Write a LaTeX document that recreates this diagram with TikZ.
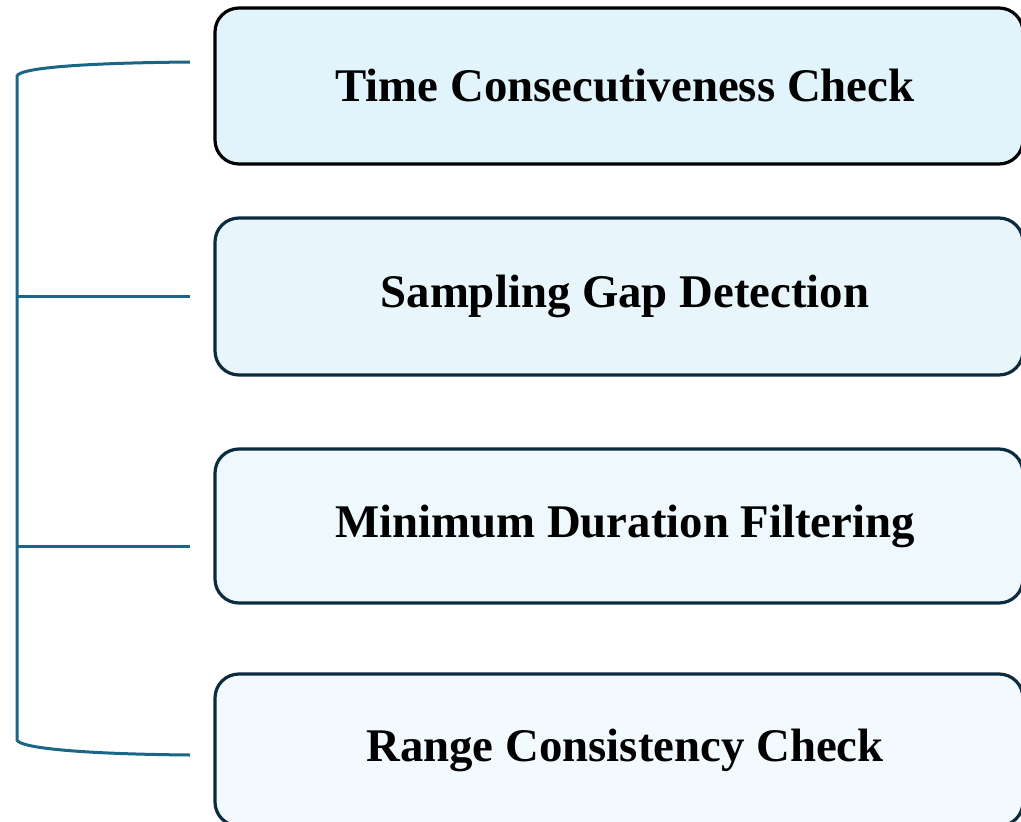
\documentclass[tikz,border=0pt]{standalone}
\usepackage{fontspec}
\setmainfont{Liberation Serif}
\definecolor{brk}{HTML}{1B6586}
\definecolor{navy}{HTML}{0B2B3E}
\definecolor{fillA}{HTML}{E1F4FC}
\definecolor{fillB}{HTML}{E8F6FC}
\definecolor{fillC}{HTML}{EEF8FD}
\definecolor{fillD}{HTML}{F3FAFE}
\tikzset{
  stagebox/.style={draw=navy, line width=3.2pt, rounded corners=24pt, inner sep=0pt,
    minimum width=808pt, font=\fontsize{46.8}{50}\selectfont\bfseries, text=black},
  brace/.style={draw=brk, line width=3pt}
}
\begin{document}
\begin{tikzpicture}[x=1pt,y=-1pt]
\useasboundingbox (0,0) rectangle (1021,822);
\clip (0,0) rectangle (1021,822);
\node[stagebox, draw=black, fill=fillA, minimum height=156pt] (b1) at (619,86) {\hspace*{12pt}\raisebox{-4pt}{Time Consecutiveness Check}};
\node[stagebox, fill=fillB, minimum height=157pt] (b2) at (619,296.5) {\hspace*{12pt}\raisebox{-4pt}{Sampling Gap Detection}};
\node[stagebox, fill=fillC, minimum height=154pt] (b3) at (619,526) {\hspace*{12pt}\raisebox{-4pt}{Minimum Duration Filtering}};
\node[stagebox, fill=fillD, minimum height=152pt] (b4) at (619,750) {\hspace*{12pt}\raisebox{-4pt}{Range Consistency Check}};
\coordinate (e1) at (190,62);
\coordinate (e2) at (190,296);
\coordinate (e3) at (190,546);
\coordinate (e4) at (190,755);
\coordinate (s1) at (17,76);
\coordinate (s2) at (17,296);
\coordinate (s3) at (17,546);
\coordinate (s4) at (17,740);
\draw[brace] (e1) .. controls (80,63) and (20,68) .. (s1) -- (s4) .. controls (20,748) and (80,754) .. (e4);
\draw[brace] (s2) -- (e2);
\draw[brace] (s3) -- (e3);
\end{tikzpicture}
\end{document}
